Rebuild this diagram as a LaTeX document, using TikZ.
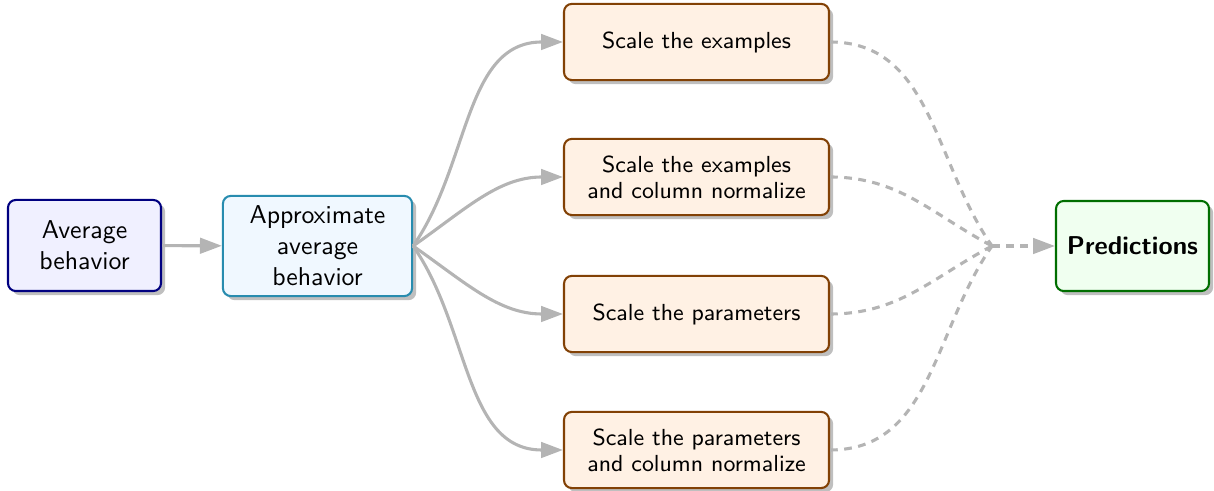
\documentclass[tikz,border=0pt]{standalone}
\usetikzlibrary{shadows,arrows.meta}

\definecolor{avgline}{RGB}{0,0,128}
\definecolor{avgfill}{RGB}{240,240,255}
\definecolor{apxline}{RGB}{40,140,175}
\definecolor{apxfill}{RGB}{240,248,255}
\definecolor{scline}{RGB}{130,65,5}
\definecolor{scfill}{RGB}{255,241,228}
\definecolor{prline}{RGB}{0,110,0}
\definecolor{prfill}{RGB}{240,255,240}
\definecolor{flowgray}{RGB}{180,180,180}

\tikzset{
  box/.style={draw, rounded corners=3pt, line width=0.8pt, align=center,
    inner sep=2pt,
    drop shadow={shadow xshift=1.6pt, shadow yshift=-1.6pt, fill=black, opacity=0.25}},
  avgbox/.style={box, draw=avgline, fill=avgfill, minimum width=59.3pt, minimum height=35.3pt},
  apxbox/.style={box, draw=apxline, fill=apxfill, minimum width=73.3pt, minimum height=38.8pt},
  scalebox/.style={box, draw=scline, fill=scfill, minimum width=102.7pt, minimum height=29.5pt,
    font=\sffamily\fontsize{9}{10}\selectfont},
  predbox/.style={box, draw=prline, fill=prfill, minimum width=59.3pt, minimum height=34.9pt,
    font=\sffamily\bfseries},
  flow/.style={draw=flowgray, line width=1.2pt, -{Triangle[length=8.5pt,width=6pt]}},
  merge/.style={draw=flowgray, line width=1.2pt, dash pattern=on 3pt off 2.5pt},
}

\begin{document}
\begin{tikzpicture}[x=0.3876pt, y=0.3876pt, font=\sffamily]
\useasboundingbox (0,0) rectangle (1214,491);

% nodes
\node[avgbox] (avg) at (84.5,245.5) {Average\\behavior};
\node[apxbox] (apx) at (317.5,245) {Approximate\\average\\behavior};
\node[scalebox] (s1) at (696.5,449) {Scale the examples};
\node[scalebox] (s2) at (696.5,314) {Scale the examples\\and column normalize};
\node[scalebox] (s3) at (696.5,177) {Scale the parameters};
\node[scalebox] (s4) at (696.5,41) {Scale the parameters\\and column normalize};
\node[predbox] (pred) at (1132.5,245) {Predictions};
\coordinate (m) at (992,245);

% solid connectors
\draw[flow] (avg) -- (apx);
\draw[flow] (apx.east) to[out=55,in=180] (s1.west);
\draw[flow] (apx.east) to[out=35,in=180] (s2.west);
\draw[flow] (apx.east) to[out=-35,in=180] (s3.west);
\draw[flow] (apx.east) to[out=-55,in=180] (s4.west);

% dashed connectors into the merge point
\draw[merge] (s1.east) to[out=0,in=125] (m);
\draw[merge] (s2.east) to[out=0,in=152] (m);
\draw[merge] (s3.east) to[out=0,in=-152] (m);
\draw[merge] (s4.east) to[out=0,in=-125] (m);
\draw[merge, -{Triangle[length=8.5pt,width=6pt]}] (m) -- (pred);
\end{tikzpicture}
\end{document}
